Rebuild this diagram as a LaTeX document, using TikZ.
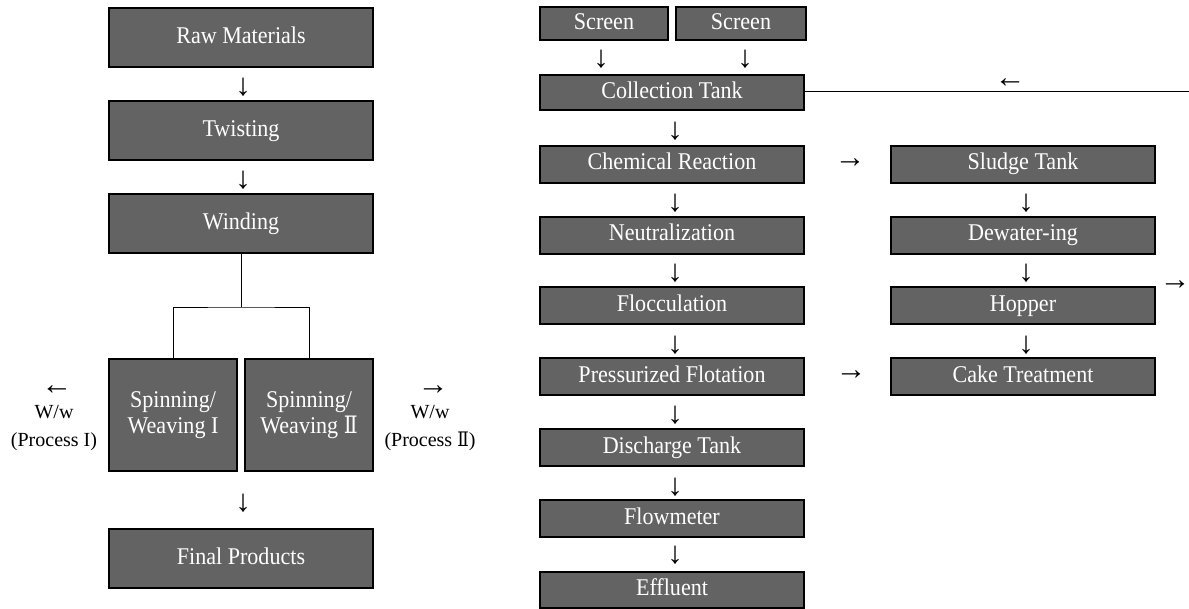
\documentclass[tikz,border=0pt]{standalone}
\usepackage{fontspec}
\setmainfont{Liberation Serif}
\newfontfamily\boxfont[FakeStretch=0.92]{Liberation Serif}
\newfontfamily\romfont[FakeStretch=0.85]{DejaVu Serif}
\newcommand{\romtwo}{{\romfont Ⅱ}}
\definecolor{boxgray}{RGB}{99,99,99}
\tikzset{
  boxbase/.style={draw=black, line width=2pt, fill=boxgray, text=white,
    font=\boxfont\fontsize{24}{26}\selectfont, inner sep=0pt, align=center},
  box/.style={boxbase, text height=16.5pt, text depth=5pt},
  glyph/.style={font=\fontsize{31}{31}\selectfont, inner sep=0pt},
  lab/.style={font=\fontsize{20}{28}\selectfont, align=center, inner sep=0pt},
  conn/.style={line width=1pt, draw=black}
}
\begin{document}
\begin{tikzpicture}[x=1pt,y=-1pt]
\useasboundingbox (0,0) rectangle (1189,608);
% ---------- left column ----------
\node[box, minimum width=264, minimum height=59] (raw)   at (241,37.5)  {Raw Materials};
\node[box, minimum width=264, minimum height=59] (twist) at (241,130.5) {Twisting};
\node[box, minimum width=264, minimum height=59] (wind)  at (241,223.5) {Winding};
\node[boxbase, minimum width=128, minimum height=112] (sp1) at (173,415) {Spinning/\\Weaving I};
\node[boxbase, minimum width=128, minimum height=112] (sp2) at (309,415) {Spinning/\\Weaving \romtwo};
\node[box, minimum width=264, minimum height=59] (final) at (241,558.5) {Final Products};

\node[glyph] (a1) at (243,87)  {↓};
\node[glyph] (a2) at (243,180) {↓};
\node[glyph] (a3) at (243,503) {↓};

\coordinate (j) at (wind.south |- 0,307);
\draw[conn] (wind.south) -- (j);
\draw[conn] (sp1.north) |- (j) -| (sp2.north);

\node[glyph] (la) at (57,390) {←};
\node[lab] (ll) at (54,428) {W/w\\(Process I)};
\node[glyph] (ra) at (433,390) {→};
\node[lab] (rl) at (430,428) {W/w\\(Process \romtwo)};

% ---------- right column ----------
\node[box, minimum width=128, minimum height=33] (scr1) at (604,23.5) {Screen};
\node[box, minimum width=130, minimum height=33] (scr2) at (741,23.5) {Screen};
\node[box, minimum width=264, minimum height=35] (coll) at (672,92.5) {Collection Tank};
\node[box, minimum width=264, minimum height=37] (chem) at (672,164) {Chemical Reaction};
\node[box, minimum width=264, minimum height=37] (neut) at (672,235) {Neutralization};
\node[box, minimum width=264, minimum height=37] (floc) at (672,305.5) {Flocculation};
\node[box, minimum width=264, minimum height=37] (pres) at (672,376.5) {Pressurized Flotation};
\node[box, minimum width=264, minimum height=37] (disc) at (672,447.5) {Discharge Tank};
\node[box, minimum width=264, minimum height=37] (flow) at (672,518.5) {Flowmeter};
\node[box, minimum width=264, minimum height=36] (effl) at (672,590) {Effluent};

\node[box, minimum width=264, minimum height=37] (sludge) at (1023,164) {Sludge Tank};
\node[box, minimum width=264, minimum height=37] (dewat)  at (1023,235) {Dewater-ing};
\node[box, minimum width=264, minimum height=37] (hopper) at (1023,305.5) {Hopper};
\node[box, minimum width=264, minimum height=37] (cake)   at (1023,376.5) {Cake Treatment};

\node[glyph] (b1) at (601,59)  {↓};
\node[glyph] (b2) at (745,59)  {↓};
\node[glyph] (b3) at (675,131) {↓};
\node[glyph] (b4) at (675,203) {↓};
\node[glyph] (b5) at (675,273) {↓};
\node[glyph] (b6) at (675,345) {↓};
\node[glyph] (b7) at (675,415) {↓};
\node[glyph] (b8) at (675,487) {↓};
\node[glyph] (b9) at (675,555) {↓};

\node[glyph] (c1) at (1026,203) {↓};
\node[glyph] (c2) at (1026,273) {↓};
\node[glyph] (c3) at (1026,345) {↓};

\node[glyph] (h1) at (850,163) {→};
\node[glyph] (h2) at (851,375) {→};
\node[glyph] (h3) at (1175,285) {→};
\node[glyph] (h4) at (1010,83) {←};

\coordinate (ret) at (1189,91);
\draw[conn] (coll.east |- ret) -- (ret);
\end{tikzpicture}
\end{document}
